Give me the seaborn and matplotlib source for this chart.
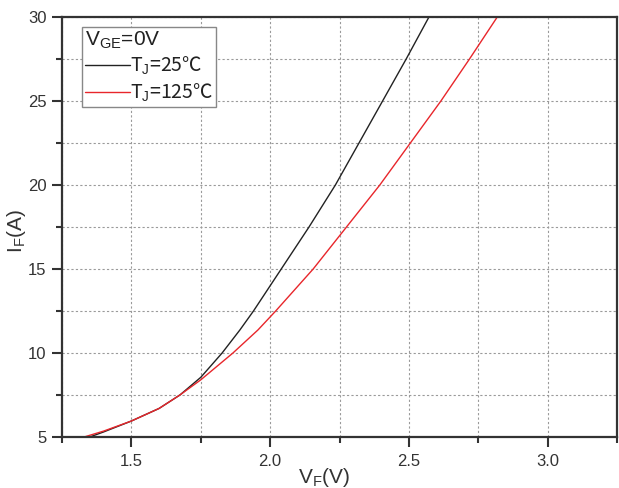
import numpy as np
import pandas as pd
import matplotlib
matplotlib.use("Agg")
import matplotlib.pyplot as plt
import seaborn as sns

# --- data ---
vf_25 = [1.35, 1.40, 1.50, 1.60, 1.675, 1.75, 1.827, 1.891, 1.94, 2.04, 2.14,
         2.235, 2.32, 2.405, 2.49, 2.572]
if_25 = [5.0, 5.3, 5.95, 6.7, 7.5, 8.55, 10.0, 11.37, 12.5, 15.0, 17.5,
         20.0, 22.5, 25.0, 27.5, 30.0]

vf_125 = [1.33, 1.40, 1.50, 1.60, 1.675, 1.75, 1.866, 1.956, 2.02, 2.155, 2.275,
          2.395, 2.505, 2.615, 2.718, 2.818]
if_125 = [5.0, 5.35, 5.95, 6.7, 7.5, 8.4, 10.0, 11.37, 12.5, 15.0, 17.5,
          20.0, 22.5, 25.0, 27.5, 30.0]

labels = ["T$_\\mathrm{J}$=25\u2103", "T$_\\mathrm{J}$=125\u2103"]
x_ticks = [1.5, 2.0, 2.5, 3.0]
y_ticks = [5, 10, 15, 20, 25, 30]

df = pd.concat([
    pd.DataFrame({"VF": vf_25, "IF": if_25, "T": labels[0]}),
    pd.DataFrame({"VF": vf_125, "IF": if_125, "T": labels[1]}),
], ignore_index=True)

sns.set_theme(style="ticks")
plt.rcParams['font.family'] = ['Liberation Sans', 'DejaVu Sans']
plt.rcParams['mathtext.fontset'] = 'custom'
plt.rcParams['mathtext.rm'] = 'Liberation Sans'

fig = plt.figure(figsize=(6.19, 4.88), dpi=100)
ax = fig.add_axes([0.100, 0.1045, 0.897, 0.8605])

sns.lineplot(data=df, x="VF", y="IF", hue="T", palette=["#222222", "#e8262b"],
             sort=False, estimator=None, linewidth=1.0, ax=ax)

ax.set_xlim(1.25, 3.25)
ax.set_ylim(5, 30)
ax.set_xticks(x_ticks)
ax.set_xticks([1.25, 1.75, 2.25, 2.75, 3.25], minor=True)
ax.set_yticks(y_ticks)
ax.set_yticks([7.5, 12.5, 17.5, 22.5, 27.5], minor=True)
ax.set_xticklabels([f"{v:.1f}" for v in x_ticks])
ax.set_yticklabels([str(v) for v in y_ticks])

ax.grid(True, which="both", linestyle=(0, (2, 2)), color="#9a9a9a", linewidth=0.8)
ax.tick_params(which="major", direction="out", length=7, width=1.5, color="#333333",
               labelsize=12, labelcolor="#333333")
ax.tick_params(which="minor", direction="out", length=4, width=1.5, color="#333333")
ax.tick_params(axis="x", which="major", pad=5)
ax.tick_params(axis="y", which="major", pad=4)
for s in ax.spines.values():
    s.set_linewidth(1.6)
    s.set_color("#333333")

ax.set_xlabel("V$_\\mathrm{F}$(V)", fontsize=15, color="#333333")
ax.set_ylabel("I$_\\mathrm{F}$(A)", fontsize=15, color="#333333")
ax.xaxis.set_label_coords(0.472, -0.068)
ax.yaxis.set_label_coords(-0.061, 0.49)

leg = ax.legend(title="V$_\\mathrm{GE}$=0V", loc="upper left", bbox_to_anchor=(0.036, 0.977),
                fontsize=14, title_fontsize=15, handlelength=2.3, handletextpad=0.05,
                borderpad=0.15, labelspacing=0.2, fancybox=False, framealpha=1,
                edgecolor="#888888", borderaxespad=0)
leg._legend_box.align = "left"
leg.get_frame().set_linewidth(1.0)
for t in leg.get_texts():
    t.set_fontfamily("Noto Sans CJK SC")
    t.set_color("#222222")
leg.get_title().set_color("#222222")

fig.savefig("out.png", dpi=100)
